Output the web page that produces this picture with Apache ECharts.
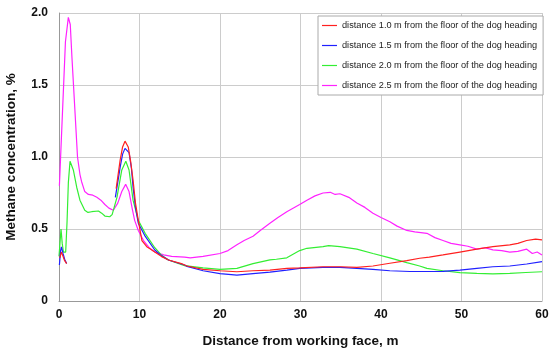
<!DOCTYPE html>
<html>
<head>
<meta charset="utf-8">
<script src="https://cdn.jsdelivr.net/npm/echarts@6/dist/echarts.min.js"></script>
<style>html,body{margin:0;padding:0;background:#fff;}#c{width:550px;height:352px;}</style>
</head>
<body>
<div id="c"></div>
<script>
var seriesNames = [
  'distance 1.0 m from the floor of the dog heading',
  'distance 1.5 m from the floor of the dog heading',
  'distance 2.0 m from the floor of the dog heading',
  'distance 2.5 m from the floor of the dog heading'
];
var xTicks = [0, 10, 20, 30, 40, 50, 60];
var yTicks = [0, 0.5, 1.0, 1.5, 2.0];

var red = [
  [0.1,0.30],[0.3,0.34],[0.5,0.31],[0.7,0.28],[0.95,0.26],[2,null],
  [7.1,0.78],[7.6,0.98],[7.9,1.07],[8.2,1.11],[8.6,1.07],[8.9,0.97],[9.2,0.84],[9.5,0.68],[9.85,0.56],[10.3,0.42],
  [10.9,0.377],[11.4,0.36],[11.9,0.34],[12.7,0.31],[13.6,0.285],[15.2,0.26],[15.9,0.243],[17.9,0.22],[20,0.21],
  [22.1,0.203],[24.1,0.21],[26.2,0.215],[28.3,0.227],[29.9,0.23],[32.8,0.238],[35,0.238],[37,0.234],[39,0.243],
  [41.1,0.262],[43.2,0.28],[44.8,0.297],[46,0.305],[47.7,0.32],[49.8,0.34],[51.9,0.36],[53.9,0.377],[56,0.39],
  [57,0.40],[58.1,0.42],[59.2,0.43],[60,0.425]
];
var blue = [
  [0.05,0.25],[0.2,0.35],[0.3,0.375],[0.5,0.33],[0.7,0.29],[0.95,0.26],[2,null],
  [7.0,0.72],[7.6,0.93],[7.9,1.02],[8.2,1.06],[8.7,1.03],[9.0,0.92],[9.2,0.79],[9.5,0.65],[9.85,0.54],[10.7,0.45],
  [11.9,0.354],[12.7,0.315],[13.6,0.285],[15.6,0.25],[15.9,0.24],[17.9,0.21],[20,0.19],[22.1,0.18],[24.1,0.19],
  [26.2,0.20],[28.3,0.215],[29.9,0.227],[32.8,0.234],[34.9,0.234],[37,0.227],[39,0.22],[41.1,0.21],[43.6,0.205],
  [45.7,0.205],[47.7,0.206],[49.8,0.215],[51.9,0.227],[53.9,0.238],[56,0.243],[58.1,0.257],[60,0.273]
];
var green = [
  [0.0,0.31],[0.25,0.50],[0.4,0.40],[0.55,0.34],[0.83,0.34],[1.0,0.55],[1.16,0.82],[1.37,0.97],[1.55,0.96],[1.78,0.91],
  [2.2,0.79],[2.6,0.70],[3.2,0.63],[3.6,0.615],[4.06,0.62],[4.9,0.625],[5.3,0.61],[5.7,0.59],[6.3,0.585],[6.6,0.60],
  [7.2,0.72],[7.8,0.91],[8.3,0.97],[8.7,0.91],[9.2,0.70],[9.85,0.56],[10.7,0.47],[11.9,0.37],[12.7,0.32],[13.6,0.285],
  [15.6,0.245],[17.9,0.23],[20,0.22],[22.1,0.227],[24.1,0.26],[26.2,0.285],[27,0.29],[28.3,0.30],[29.9,0.35],
  [30.8,0.366],[32.8,0.377],[33.5,0.385],[34.9,0.377],[37,0.36],[39,0.33],[41.1,0.30],[43.2,0.266],[44.8,0.243],
  [45.7,0.227],[47.7,0.21],[49.8,0.197],[51.9,0.192],[53.9,0.188],[56,0.192],[58,0.198],[60,0.203]
];
var magenta = [
  [0.05,0.80],[0.2,1.0],[0.5,1.4],[0.8,1.8],[1.16,1.97],[1.4,1.92],[1.6,1.70],[2.0,1.30],[2.3,1.0],[2.6,0.88],
  [2.8,0.83],[3.2,0.76],[3.65,0.74],[4.2,0.735],[4.7,0.72],[5.2,0.70],[5.7,0.67],[6.2,0.645],[6.75,0.63],[7.3,0.68],
  [7.8,0.76],[8.28,0.81],[8.7,0.76],[9.1,0.64],[9.4,0.56],[9.85,0.49],[10.5,0.42],[11.2,0.37],[11.9,0.34],[13,0.32],
  [14,0.31],[15.6,0.305],[16.3,0.30],[17.9,0.31],[20,0.33],[21,0.35],[22.1,0.39],[23,0.42],[24.1,0.45],[25,0.49],
  [26.2,0.54],[27.2,0.58],[28.3,0.62],[29.9,0.67],[30.8,0.70],[31.8,0.73],[32.8,0.75],[33.7,0.755],[34.3,0.74],
  [34.9,0.745],[36,0.72],[37,0.68],[38,0.65],[39,0.61],[40,0.58],[41.1,0.55],[42,0.52],[43.2,0.49],[44.2,0.48],
  [45.7,0.47],[46.7,0.44],[47.7,0.42],[48.7,0.40],[49.8,0.39],[50.8,0.38],[51.9,0.36],[52.9,0.37],[53.9,0.355],
  [55,0.35],[56,0.34],[57,0.345],[58.1,0.36],[58.8,0.33],[59.4,0.34],[60,0.32]
];

var colors = ['#ff2020', '#2020ff', '#33ee33', '#ff22ff'];
var dataSets = [red, blue, green, magenta];

var chart = echarts.init(document.getElementById('c'), null, {renderer: 'canvas'});
var font = 'Liberation Sans, Arial, sans-serif';
chart.setOption({
  animation: false,
  backgroundColor: '#ffffff',
  grid: {left: 59, right: 8, top: 13, bottom: 51, containLabel: false, outerBoundsMode: 'none'},
  legend: {
    orient: 'vertical',
    left: 318, top: 16,
    padding: [4, 6, 4, 4],
    itemGap: 9,
    itemWidth: 15, itemHeight: 11,
    backgroundColor: '#ffffff',
    borderColor: '#aaaaaa', borderWidth: 1,
    textStyle: {fontFamily: font, fontSize: 9.2, color: '#222', lineHeight: 11},
    data: seriesNames.map(function(n){return {name: n, icon: 'path://M0,5 L15,5 L15,6.2 L0,6.2 Z'};})
  },
  xAxis: {
    type: 'value', min: 0, max: 60, interval: 10,
    name: 'Distance from working face, m', nameLocation: 'middle', nameGap: 33,
    nameTextStyle: {fontFamily: font, fontSize: 13.5, fontWeight: 'bold', color: '#111'},
    axisLine: {show: true, lineStyle: {color: '#999', width: 1}},
    axisTick: {show: false},
    axisLabel: {fontFamily: font, fontSize: 12, fontWeight: 'bold', color: '#111', margin: 8,
      formatter: function(v){ return xTicks.indexOf(v) >= 0 ? String(v) : ''; }},
    splitLine: {show: true, lineStyle: {color: '#cccccc', width: 1}}
  },
  yAxis: {
    type: 'value', min: 0, max: 2.0, interval: 0.5,
    name: 'Methane concentration, %', nameLocation: 'middle', nameGap: 41,
    nameTextStyle: {fontFamily: font, fontSize: 13.5, fontWeight: 'bold', color: '#111'},
    axisLine: {show: true, lineStyle: {color: '#999', width: 1}},
    axisTick: {show: false},
    axisLabel: {fontFamily: font, fontSize: 12, fontWeight: 'bold', color: '#111', margin: 11,
      formatter: function(v){ return v === 0 ? '0' : v.toFixed(1); }},
    splitLine: {show: true, lineStyle: {color: '#cccccc', width: 1}}
  },
  series: dataSets.map(function(d, i){
    return {
      name: seriesNames[i], type: 'line', data: d,
      showSymbol: false, symbol: 'none', connectNulls: false,
      color: colors[i],
      lineStyle: {color: colors[i], width: 1.2},
      z: 2 + (3 - i)
    };
  })
});
</script>
</body>
</html>
